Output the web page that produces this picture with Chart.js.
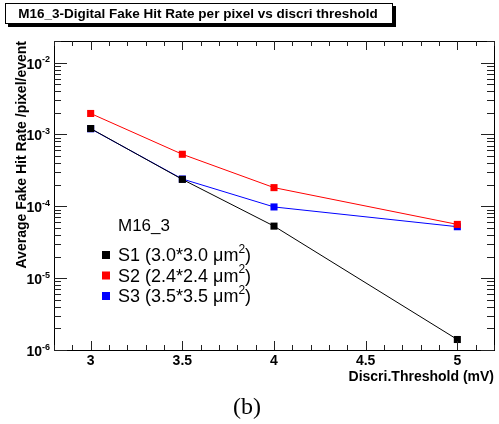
<!DOCTYPE html>
<html>
<head>
<meta charset="utf-8">
<script src="https://cdn.jsdelivr.net/npm/chart.js@4/dist/chart.umd.min.js"></script>
<style>
  body { margin: 0; background: #fff; }
  #wrap { width: 499px; height: 424px; }
</style>
</head>
<body>
<div id="wrap"><canvas id="fakeRateChart" width="499" height="424"></canvas></div>
<script>
// data
const thresholds = [3, 3.5, 4, 5];
const s1Rate = [1.21e-3, 2.37e-4, 5.3e-5, 1.4e-6];
const s2Rate = [1.96e-3, 5.3e-4, 1.82e-4, 5.6e-5];
const s3Rate = [1.2e-3, 2.4e-4, 9.8e-5, 5.2e-5];
const seriesLabels = ['S1 (3.0*3.0 \u03bcm^2)', 'S2 (2.4*2.4 \u03bcm^2)', 'S3 (3.5*3.5 \u03bcm^2)'];
const seriesColors = ['#000000', '#ff0000', '#0000ff'];
const xTickLabels = [3, 3.5, 4, 4.5, 5];
const yTickExponents = [-6, -5, -4, -3, -2];

const FONT = '"Liberation Sans", Arial, sans-serif';

function toPoints(ys) {
    return thresholds.map((x, i) => ({ x: x, y: ys[i] }));
}

const datasets = [s1Rate, s2Rate, s3Rate].map((ys, i) => ({
    label: seriesLabels[i],
    data: toPoints(ys),
    borderColor: seriesColors[i],
    backgroundColor: seriesColors[i],
    borderWidth: 1,
    pointStyle: 'rect',
    pointRadius: 5,
    pointBorderWidth: 0,
    tension: 0,
    clip: false
}));

// draw "text" where "^n" becomes a superscript
function drawSup(ctx, text, x, y, size, bold, align) {
    const parts = text.split('^');
    const base = parts[0];
    const rest = parts[1] || '';
    const m = rest.match(/^(-?\d+)(.*)$/);
    const sup = m ? m[1] : '';
    const tail = m ? m[2] : rest;
    const w = bold ? 'bold ' : '';
    const supSize = Math.round(size * 0.65);
    ctx.font = w + size + 'px ' + FONT;
    const wb = ctx.measureText(base).width;
    const wt = ctx.measureText(tail).width;
    ctx.font = w + supSize + 'px ' + FONT;
    const ws = ctx.measureText(sup).width;
    const total = wb + ws + wt;
    let x0 = x;
    if (align === 'right') x0 = x - total;
    if (align === 'center') x0 = x - total / 2;
    ctx.textAlign = 'left';
    ctx.textBaseline = 'alphabetic';
    ctx.font = w + size + 'px ' + FONT;
    ctx.fillText(base, x0, y);
    ctx.font = w + supSize + 'px ' + FONT;
    ctx.fillText(sup, x0 + wb, y - size * 0.45);
    ctx.font = w + size + 'px ' + FONT;
    ctx.fillText(tail, x0 + wb + ws, y);
}

const decorations = {
    id: 'decorations',
    afterDraw(chart) {
        const ctx = chart.ctx;
        const a = chart.chartArea;
        const xs = chart.scales.x;
        const ys = chart.scales.y;
        ctx.save();

        // frame
        ctx.strokeStyle = '#000';
        ctx.lineWidth = 1;
        ctx.strokeRect(a.left + 0.5, a.top + 0.5, a.right - a.left, a.bottom - a.top);

        // x ticks, bottom and top
        ctx.strokeStyle = '#222';
        ctx.beginPath();
        for (let k = 28; k <= 52; k++) {
            const v = k / 10;
            const px = Math.round(xs.getPixelForValue(v)) + 0.5;
            const len = (k % 5 === 0) ? 9 : 5;
            ctx.moveTo(px, a.bottom);
            ctx.lineTo(px, a.bottom - len);
            ctx.moveTo(px, a.top);
            ctx.lineTo(px, a.top + len);
        }
        // y ticks, left and right
        for (let e = -6; e <= -2; e++) {
            for (let m = 1; m <= 9; m++) {
                const v = m * Math.pow(10, e);
                if (v > ys.max) break;
                const py = Math.round(ys.getPixelForValue(v)) + 0.5;
                const len = m === 1 ? 13 : 7;
                ctx.moveTo(a.left, py);
                ctx.lineTo(a.left + len, py);
                ctx.moveTo(a.right, py);
                ctx.lineTo(a.right - len, py);
            }
        }
        ctx.stroke();

        ctx.fillStyle = '#000';
        // x tick labels
        ctx.font = 'bold 14px ' + FONT;
        ctx.textAlign = 'center';
        ctx.textBaseline = 'top';
        xTickLabels.forEach(v => {
            ctx.fillText(String(v), xs.getPixelForValue(v), a.bottom + 4);
        });
        // y tick labels
        yTickExponents.forEach(e => {
            const py = ys.getPixelForValue(Math.pow(10, e));
            drawSup(ctx, '10^' + e, a.left - 4, py + 6, 14, true, 'right');
        });

        // axis titles
        ctx.font = 'bold 14px ' + FONT;
        ctx.textAlign = 'right';
        ctx.textBaseline = 'alphabetic';
        ctx.fillText('Discri.Threshold (mV)', a.right, a.bottom + 31);
        ctx.save();
        ctx.translate(26, a.top);
        ctx.rotate(-Math.PI / 2);
        ctx.textAlign = 'right';
        ctx.fillText('Average Fake Hit Rate /pixel/event', 0, 0);
        ctx.restore();

        // legend
        ctx.font = '17px ' + FONT;
        ctx.textAlign = 'left';
        ctx.fillText('M16_3', 118, 231);
        seriesLabels.forEach((lab, i) => {
            const y = 255 + i * 20.5;
            ctx.fillStyle = seriesColors[i];
            ctx.fillRect(102, y - 4, 8, 8);
            ctx.fillStyle = '#000';
            drawSup(ctx, lab, 118, y + 6, 18, false, 'left');
        });

        // title box with shadow
        ctx.fillStyle = '#000';
        ctx.fillRect(8, 24, 387, 3);
        ctx.fillRect(393, 6, 3, 21);
        ctx.fillStyle = '#fff';
        ctx.fillRect(5, 3, 388, 21);
        ctx.strokeStyle = '#000';
        ctx.strokeRect(5.5, 3.5, 387, 20);
        ctx.fillStyle = '#000';
        ctx.font = 'bold 13.5px ' + FONT;
        ctx.textAlign = 'center';
        ctx.textBaseline = 'middle';
        ctx.fillText('M16_3-Digital Fake Hit Rate per pixel vs discri threshold', 198, 14);

        // caption
        ctx.font = '24px "Liberation Serif", "Times New Roman", serif';
        ctx.textAlign = 'center';
        ctx.textBaseline = 'alphabetic';
        ctx.fillText('(b)', 247, 414);

        ctx.restore();
    }
};

new Chart(document.getElementById('fakeRateChart').getContext('2d'), {
    type: 'line',
    data: { datasets: datasets },
    options: {
        responsive: false,
        animation: false,
        events: [],
        layout: { padding: { left: 54, right: 3, top: 41, bottom: 74 } },
        plugins: { legend: { display: false }, tooltip: { enabled: false } },
        scales: {
            x: { type: 'linear', min: 2.8, max: 5.2, display: false },
            y: { type: 'logarithmic', min: 1e-6, max: 2e-2, display: false }
        }
    },
    plugins: [decorations]
});
</script>
</body>
</html>
